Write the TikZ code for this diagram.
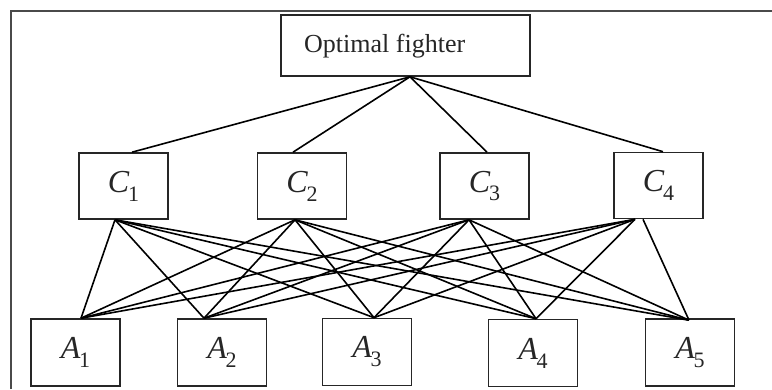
\documentclass[tikz,border=0pt]{standalone}
\usepackage{fontspec}
\setmainfont{Liberation Serif}
\usetikzlibrary{calc}
\definecolor{framegray}{HTML}{4A4A4A}
\definecolor{inkgray}{HTML}{262626}
\newcommand\sublbl[2]{\textit{#1}\kern-1.5pt\raisebox{-0.28em}{\fontsize{22}{22}\selectfont #2}}
\tikzset{
  box/.style={draw=inkgray, line width=1.6pt, fill=white, inner sep=0pt},
  cbox/.style={box, minimum width=89pt, minimum height=66pt, font=\fontsize{32}{32}\selectfont, text=inkgray},
  abox/.style={box, minimum width=89pt, minimum height=67pt, font=\fontsize{32}{32}\selectfont, text=inkgray},
  link/.style={draw=black, line width=1.6pt},
}
\begin{document}
\begin{tikzpicture}[x=1pt, y=-1pt]
\useasboundingbox (0,0) rectangle (772,389);
% outer frame (left and top edges)
\draw[framegray, line width=1.5pt] (11,389) -- (11,11) -- (772,11);

% goal
\node[box, minimum width=249pt, minimum height=61pt] (goal) at (405.5,45.5) {};
\node[anchor=base west, inner sep=0pt, font=\fontsize{26}{26}\selectfont, text=inkgray] (goaltxt) at (304,52) {Optimal fighter};

% criteria
\node[cbox] (c1) at (123.5,186) {\sublbl{C}{1}};
\node[cbox] (c2) at (302,186) {\sublbl{C}{2}};
\node[cbox] (c3) at (484.5,186) {\sublbl{C}{3}};
\node[cbox] (c4) at (658.5,185.5) {\sublbl{C}{4}};

% alternatives
\node[abox] (a1) at (75.5,352.5) {\sublbl{A}{1}};
\node[abox] (a2) at (222,352.5) {\sublbl{A}{2}};
\node[abox] (a3) at (367,352) {\sublbl{A}{3}};
\node[abox] (a4) at (533,353) {\sublbl{A}{4}};
\node[abox] (a5) at (690,352.5) {\sublbl{A}{5}};

% attachment points
\coordinate (g)   at ([xshift=4.5pt]goal.south);
\coordinate (c1t) at ([xshift=8.5pt]c1.north);
\coordinate (c2t) at ([xshift=-9pt]c2.north);
\coordinate (c3t) at ([xshift=2.5pt]c3.north);
\coordinate (c4t) at ([xshift=4.5pt]c4.north);
\coordinate (c1b) at ([xshift=-8.5pt]c1.south);
\coordinate (c2b) at ([xshift=-7pt]c2.south);
\coordinate (c3b) at ([xshift=-15.5pt]c3.south);
\coordinate (c4b) at ([xshift=-23.5pt]c4.south);
\coordinate (c4r) at ([xshift=-15.5pt]c4.south);
\coordinate (a1t) at ([xshift=5.5pt]a1.north);
\coordinate (a2t) at ([xshift=-18pt]a2.north);
\coordinate (a3t) at ([xshift=7pt]a3.north);
\coordinate (a4t) at ([xshift=3pt]a4.north);
\coordinate (a5t) at ([xshift=-1pt,yshift=-2pt]a5.north);

% goal to criteria
\foreach \c in {c1t,c2t,c3t,c4t} \draw[link] (g) -- (\c);

% criteria to alternatives
\foreach \c in {c1b,c2b,c3b}
  \foreach \a in {a1t,a2t,a3t,a4t,a5t}
    \draw[link] (\c) -- (\a);
\foreach \a in {a1t,a2t,a3t,a4t} \draw[link] (c4b) -- (\a);
\draw[link] (c4r) -- (a5t);
\end{tikzpicture}
\end{document}
